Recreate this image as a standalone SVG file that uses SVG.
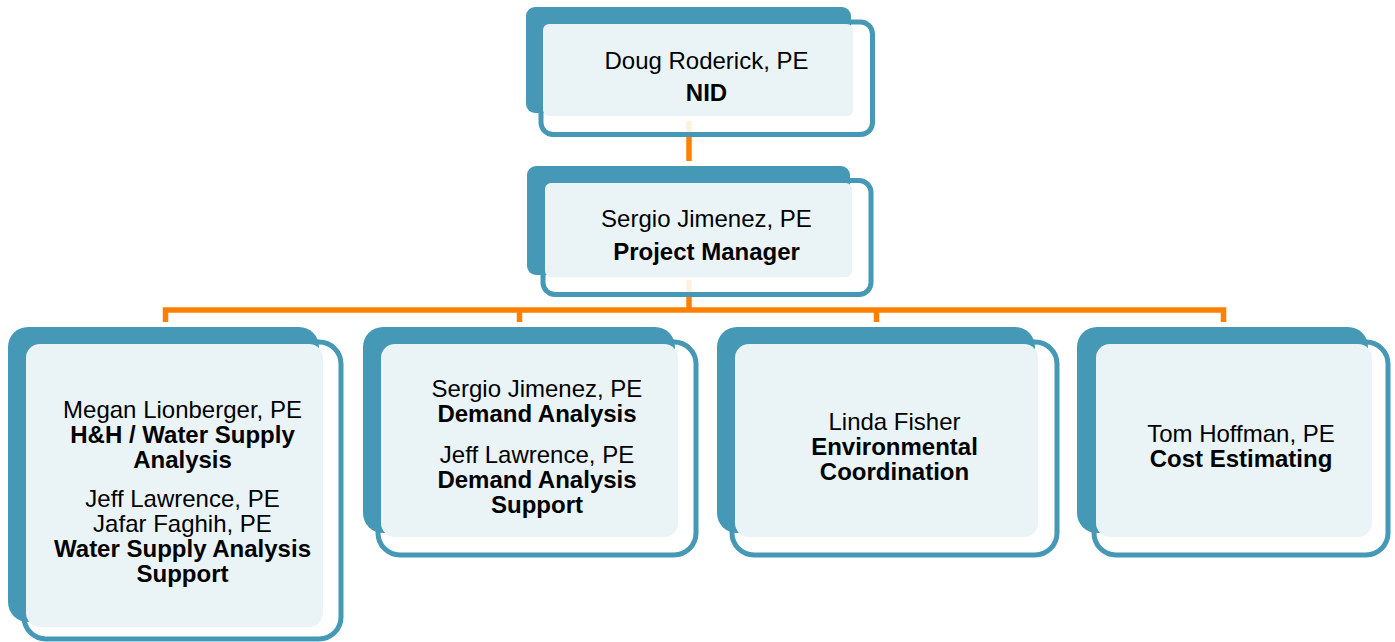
<svg xmlns="http://www.w3.org/2000/svg" width="1395" height="642" viewBox="0 0 1395 642">
<style>
.outline{fill:#ffffff;fill-opacity:0.88;stroke:#4599B6;stroke-width:5}
.back{fill:#4599B6}
.light{fill:#EAF4F7}
.conn{fill:none;stroke:#FF8000;stroke-width:5.5;stroke-linejoin:miter;stroke-linecap:butt}
text{font-family:"Liberation Sans",Arial,Helvetica,sans-serif;font-size:24px;fill:#000;text-anchor:middle}
.b{font-weight:bold}
</style>
<rect width="1395" height="642" fill="#ffffff"/>
<g id="connectors">
<line class="conn" x1="689" y1="121" x2="689" y2="161"/>
<line class="conn" x1="689" y1="280" x2="689" y2="310"/>
<path class="conn" d="M165.5,322 V310 H1223.5 V322"/>
<line class="conn" x1="519.5" y1="310" x2="519.5" y2="322"/>
<line class="conn" x1="876.5" y1="310" x2="876.5" y2="322"/>
</g>
<g id="node-doug">
<rect class="outline" x="541" y="22" width="331.5" height="112.5" rx="12"/>
<rect class="back" x="526" y="7" width="325" height="106" rx="9"/>
<rect class="light" x="543" y="24" width="310" height="92" rx="6"/>
<text x="706.5" y="69">Doug Roderick, PE</text>
<text class="b" x="706.5" y="101">NID</text>
</g>
<g id="node-sergio-pm">
<rect class="outline" x="543" y="180.5" width="328" height="114" rx="12"/>
<rect class="back" x="527" y="166" width="323" height="109" rx="9"/>
<rect class="light" x="545" y="183" width="307" height="94" rx="6"/>
<text x="706.5" y="227">Sergio Jimenez, PE</text>
<text class="b" x="706.5" y="260">Project Manager</text>
</g>
<g id="node-megan">
<rect class="outline" x="24" y="342" width="317" height="297" rx="22"/>
<rect class="back" x="8" y="327" width="311" height="295" rx="20"/>
<rect class="light" x="26" y="344" width="297" height="283" rx="14"/>
<text x="182.5" y="418">Megan Lionberger, PE</text>
<text class="b" x="182.5" y="443">H&amp;H / Water Supply</text>
<text class="b" x="182.5" y="468">Analysis</text>
<text x="182.5" y="507">Jeff Lawrence, PE</text>
<text x="182.5" y="532">Jafar Faghih, PE</text>
<text class="b" x="182.5" y="557">Water Supply Analysis</text>
<text class="b" x="182.5" y="582">Support</text>
</g>
<g id="node-demand">
<rect class="outline" x="378" y="342" width="318" height="213" rx="22"/>
<rect class="back" x="363" y="327" width="312" height="206" rx="20"/>
<rect class="light" x="381" y="344" width="297" height="193" rx="14"/>
<text x="537" y="397">Sergio Jimenez, PE</text>
<text class="b" x="537" y="422">Demand Analysis</text>
<text x="537" y="462.5">Jeff Lawrence, PE</text>
<text class="b" x="537" y="487.5">Demand Analysis</text>
<text class="b" x="537" y="512.5">Support</text>
</g>
<g id="node-linda">
<rect class="outline" x="732" y="342" width="325" height="213" rx="22"/>
<rect class="back" x="717" y="327" width="318" height="206" rx="20"/>
<rect class="light" x="735" y="344" width="303" height="193" rx="14"/>
<text x="894.5" y="430">Linda Fisher</text>
<text class="b" x="894.5" y="455">Environmental</text>
<text class="b" x="894.5" y="480">Coordination</text>
</g>
<g id="node-tom">
<rect class="outline" x="1094" y="342" width="294" height="213" rx="22"/>
<rect class="back" x="1077" y="327" width="291" height="206" rx="20"/>
<rect class="light" x="1096" y="344" width="276" height="193" rx="14"/>
<text x="1241" y="442">Tom Hoffman, PE</text>
<text class="b" x="1241" y="467">Cost Estimating</text>
</g>
</svg>
